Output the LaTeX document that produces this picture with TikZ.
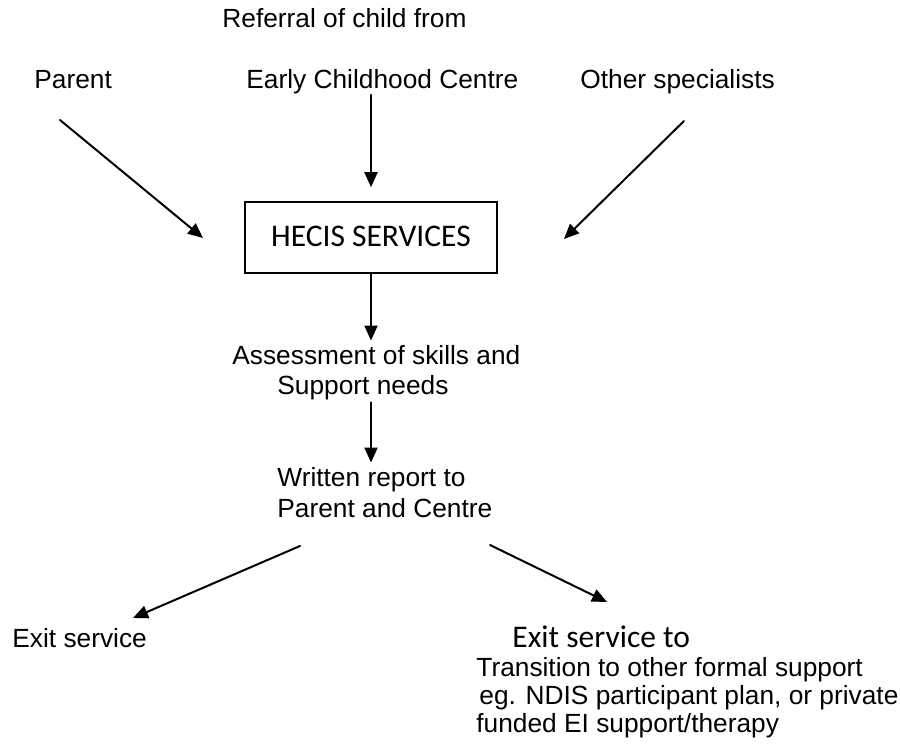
\documentclass[tikz,border=0pt]{standalone}
\usepackage{fontspec}
\setmainfont{Liberation Sans}
\newfontfamily\calibri{Carlito}
\usetikzlibrary{arrows.meta}

\begin{document}
\begin{tikzpicture}[x=0.5pt, y=-0.5pt, line cap=round,
    txt/.style={inner sep=0pt, anchor=base west, font=\fontsize{13.15}{15}\selectfont},
    cal/.style={inner sep=0pt, font=\calibri\fontsize{15.75}{18}\selectfont},
    flow/.style={line width=1pt, -{Triangle[length=7.5pt,width=6.5pt]}}]
  \useasboundingbox (0,0) rectangle (900,748);
  % Referral sources.
  \node[txt] (referral) at (222,28) {Referral of child from};
  \node[txt] (parent) at (34,89) {Parent};
  \node[txt] (early) at (246,89) {Early Childhood Centre};
  \node[txt] (other) at (580,89) {Other specialists};
  % The service.
  \node[cal, draw, line width=0.8pt, minimum width=126pt, minimum height=35.5pt,
        text depth=1.5pt] (hecis) at (371,237.5) {HECIS SERVICES};
  % Steps after intake.
  \node[txt] (assess) at (232,365) {Assessment of skills and};
  \node[txt] (needs) at (277,395) {Support needs};
  \node[txt] (written) at (277,487) {Written report to};
  \node[txt] (report) at (277,517) {Parent and Centre};
  % Outcomes.
  \node[txt] (exit) at (12,647) {Exit service};
  \node[cal, anchor=base west] (exitto) at (512,647) {Exit service to};
  \node[txt] (trans1) at (476,676) {Transition to other formal support};
  \node[txt] (trans2) at (479,704) {eg. NDIS participant plan, or private};
  \node[txt] (trans3) at (476,732) {funded EI support/therapy};
  % Loose arrow ends.
  \coordinate (parent-out) at (60,120);
  \coordinate (hecis-w) at (203,238);
  \coordinate (other-out) at (684,121);
  \coordinate (hecis-e) at (564,239);
  \coordinate (split-l) at (300,546);
  \coordinate (exit-in) at (133,618);
  \coordinate (split-r) at (490,545);
  \coordinate (exitto-in) at (607,602);
  % Arrows.
  \draw[flow] (parent-out) -- (hecis-w);
  \draw[flow, shorten >=7pt] (early.south -| hecis) -- (hecis.north);
  \draw[flow] (other-out) -- (hecis-e);
  \draw[flow, shorten >=2.5pt] (hecis.south) -- (hecis.south |- assess.north);
  \draw[flow, shorten <=0.75pt, shorten >=2.5pt] (hecis.south |- needs.south) -- (hecis.south |- written.north);
  \draw[flow] (split-l) -- (exit-in);
  \draw[flow] (split-r) -- (exitto-in);
\end{tikzpicture}
\end{document}
